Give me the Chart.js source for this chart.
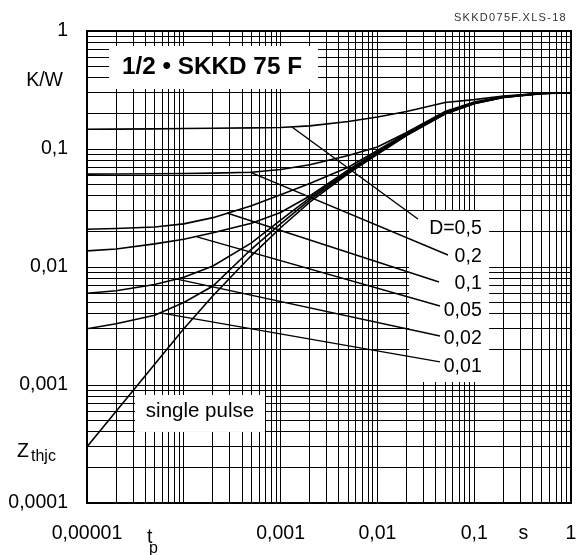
<!DOCTYPE html>
<html>
<head>
<meta charset="utf-8">
<script src="https://cdn.jsdelivr.net/npm/chart.js@4/dist/chart.umd.min.js"></script>
<style>
  body { margin: 0; background: #fff; }
  canvas { display: block; }
</style>
</head>
<body>
<canvas id="myChart" width="579" height="555"></canvas>
<script>
// pulse duration t_p in s
const times = [1e-5, 2e-5, 5e-5, 1e-4, 2e-4, 5e-4, 1e-3, 2e-3, 5e-3, 1e-2, 2e-2, 5e-2, 0.1, 0.2, 0.5, 1];

// Zthjc in K/W
const singlePulse = [3.0e-4, 6.0e-4, 1.5e-3, 3.0e-3, 5.7e-3, 0.0125, 0.0215, 0.0355, 0.062, 0.090, 0.130, 0.198, 0.242, 0.273, 0.294, 0.300];
const d001 = [0.0030, 0.0033, 0.0039, 0.0050, 0.0069, 0.0142, 0.0232, 0.0370, 0.0635, 0.0915, 0.131, 0.199, 0.243, 0.274, 0.295, 0.300];
const d002 = [0.0060, 0.0063, 0.0071, 0.0082, 0.0102, 0.0160, 0.0250, 0.0385, 0.0650, 0.093, 0.132, 0.200, 0.244, 0.275, 0.295, 0.300];
const d005 = [0.0137, 0.0142, 0.0157, 0.0172, 0.0195, 0.0235, 0.0290, 0.0400, 0.0665, 0.095, 0.134, 0.202, 0.245, 0.276, 0.296, 0.300];
const d01 = [0.0209, 0.0212, 0.0218, 0.0232, 0.0262, 0.0330, 0.0410, 0.0510, 0.070, 0.097, 0.136, 0.204, 0.247, 0.277, 0.296, 0.300];
const d02 = [0.0612, 0.0614, 0.0617, 0.0620, 0.0625, 0.0635, 0.0670, 0.0735, 0.088, 0.104, 0.138, 0.208, 0.250, 0.279, 0.297, 0.300];
const d05 = [0.147, 0.1475, 0.148, 0.149, 0.150, 0.151, 0.152, 0.157, 0.171, 0.187, 0.208, 0.248, 0.262, 0.281, 0.297, 0.300];

// leader lines from each D curve to its label
const dLabels = ['D=0,5', '0,2', '0,1', '0,05', '0,02', '0,01'];
const leaderFromX = [1.31e-3, 4.83e-4, 2.79e-4, 1.37e-4, 8.5e-5, 5.95e-5];
const leaderFromY = [0.1535, 0.0638, 0.0287, 0.0180, 0.0079, 0.00407];
const leaderToX = [0.0262, 0.0536, 0.0433, 0.0443, 0.0443, 0.0443];
const leaderToY = [0.0255, 0.01264, 0.00746, 0.00467, 0.0026, 0.00157];

// tick labels (keys are String(value))
const xTickLabels = { '0.00001': '0,00001', '0.001': '0,001', '0.01': '0,01', '0.1': '0,1', '1': '1' };
const yTickLabels = { '1': '1', '0.1': '0,1', '0.01': '0,01', '0.001': '0,001', '0.0001': '0,0001' };

const FONT = "'Liberation Sans', Arial, sans-serif";

const toPoints = (xs, ys) => xs.map((v, i) => ({ x: v, y: ys[i] }));

function logTicks(minExp, maxExp) {
  const out = [];
  for (let e = minExp; e < maxExp; e++) {
    for (let m = 1; m <= 9; m++) out.push({ value: +(m * Math.pow(10, e)).toPrecision(3), major: m === 1 });
  }
  out.push({ value: Math.pow(10, maxExp), major: true });
  return out;
}

const curves = [d05, d02, d01, d005, d002, d001, singlePulse].map(ys => ({
  data: toPoints(times, ys),
  borderColor: '#000',
  borderWidth: 1.6,
  pointRadius: 0,
  tension: 0
}));

const leaders = dLabels.map((_, i) => ({
  data: [{ x: leaderFromX[i], y: leaderFromY[i] }, { x: leaderToX[i], y: leaderToY[i] }],
  borderColor: '#000',
  borderWidth: 1.4,
  pointRadius: 0
}));

const overlay = {
  id: 'overlay',
  beforeDatasetsDraw(chart) {
    const { ctx, scales: { x, y } } = chart;
    // white boxes behind the texts, given in data units [x1, x2, y1, y2]
    const boxes = [
      [1.687e-5, 2.434e-3, 0.746, 0.3225],
      [0.0212, 0.1425, 0.0298, 0.00106],
      [3.13e-5, 6.9e-4, 8.23e-4, 4.0e-4]
    ];
    ctx.save();
    ctx.fillStyle = '#fff';
    boxes.forEach(b => {
      const l = x.getPixelForValue(b[0]), r = x.getPixelForValue(b[1]);
      const t = y.getPixelForValue(b[2]), btm = y.getPixelForValue(b[3]);
      ctx.fillRect(l, t, r - l, btm - t);
    });
    ctx.restore();
  },
  afterDraw(chart) {
    const { ctx, chartArea: a, scales: { x, y } } = chart;
    ctx.save();
    ctx.fillStyle = '#000';

    // frame
    ctx.strokeStyle = '#000';
    ctx.lineWidth = 2;
    ctx.strokeRect(a.left, a.top, a.right - a.left, a.bottom - a.top);

    // title
    ctx.font = 'bold 24.3px ' + FONT;
    ctx.textAlign = 'center';
    ctx.textBaseline = 'middle';
    ctx.fillText('1/2 • SKKD 75 F', x.getPixelForValue(1.955e-4), y.getPixelForValue(0.495));

    // D labels
    ctx.font = '19.5px ' + FONT;
    ctx.textAlign = 'right';
    ctx.textBaseline = 'alphabetic';
    const baseY = [0.01905, 0.01109, 0.00651, 0.00385, 0.00223, 0.00130];
    dLabels.forEach((t, i) => ctx.fillText(t, x.getPixelForValue(0.1196), y.getPixelForValue(baseY[i])));

    ctx.font = '20.5px ' + FONT;
    ctx.textAlign = 'center';
    ctx.fillText('single pulse', x.getPixelForValue(1.47e-4), y.getPixelForValue(5.36e-4));

    // axis units
    ctx.font = '19.5px ' + FONT;
    ctx.textAlign = 'right';
    ctx.textBaseline = 'middle';
    ctx.fillText('K/W', a.left - 24, y.getPixelForValue(0.38));

    ctx.textAlign = 'left';
    ctx.textBaseline = 'alphabetic';
    const zy = y.getPixelForValue(2.87e-4);
    ctx.fillText('Z', 17, zy + 8);
    ctx.font = '16px ' + FONT;
    ctx.fillText('thjc', 31, zy + 12);

    ctx.font = '19.5px ' + FONT;
    ctx.fillText('t', 147, a.bottom + 40);
    ctx.font = '16px ' + FONT;
    ctx.fillText('p', 149, a.bottom + 50);

    ctx.font = '19.5px ' + FONT;
    ctx.textAlign = 'center';
    ctx.fillText('s', x.getPixelForValue(0.323), a.bottom + 36);

    // file tag
    ctx.font = '11px ' + FONT;
    ctx.fillStyle = '#333';
    ctx.textAlign = 'right';
    ctx.letterSpacing = '1.3px';
    ctx.fillText('SKKD075F.XLS-18', 567, 21);
    ctx.restore();
  }
};

const context = document.getElementById('myChart');

const myChart = new Chart(context, {
  type: 'line',
  data: { datasets: [...curves, ...leaders] },
  options: {
    responsive: false,
    animation: false,
    devicePixelRatio: 1,
    layout: { padding: { left: 0, right: 8, top: 31, bottom: 0 } },
    plugins: { legend: { display: false }, tooltip: { enabled: false } },
    scales: {
      x: {
        type: 'logarithmic',
        min: 1e-5,
        max: 1,
        afterBuildTicks: s => { s.ticks = logTicks(-5, 0); },
        afterFit: s => { s.height = 52; s.paddingLeft = 0; s.paddingRight = 0; },
        grid: { color: '#000', lineWidth: 1, drawTicks: false },
        border: { display: false },
        ticks: {
          autoSkip: false,
          maxRotation: 0,
          minRotation: 0,
          padding: 19,
          color: '#000',
          font: { family: FONT, size: 19.5 },
          callback: v => xTickLabels[String(v)] || ''
        }
      },
      y: {
        type: 'logarithmic',
        min: 1e-4,
        max: 1,
        afterBuildTicks: s => { s.ticks = logTicks(-4, 0); },
        afterFit: s => { s.width = 87; s.paddingTop = 0; s.paddingBottom = 0; },
        grid: { color: '#000', lineWidth: 1, drawTicks: false },
        border: { display: false },
        ticks: {
          autoSkip: false,
          padding: 19,
          color: '#000',
          font: { family: FONT, size: 19.5 },
          callback: v => yTickLabels[String(v)] || ''
        }
      }
    }
  },
  plugins: [overlay]
});
</script>
</body>
</html>
